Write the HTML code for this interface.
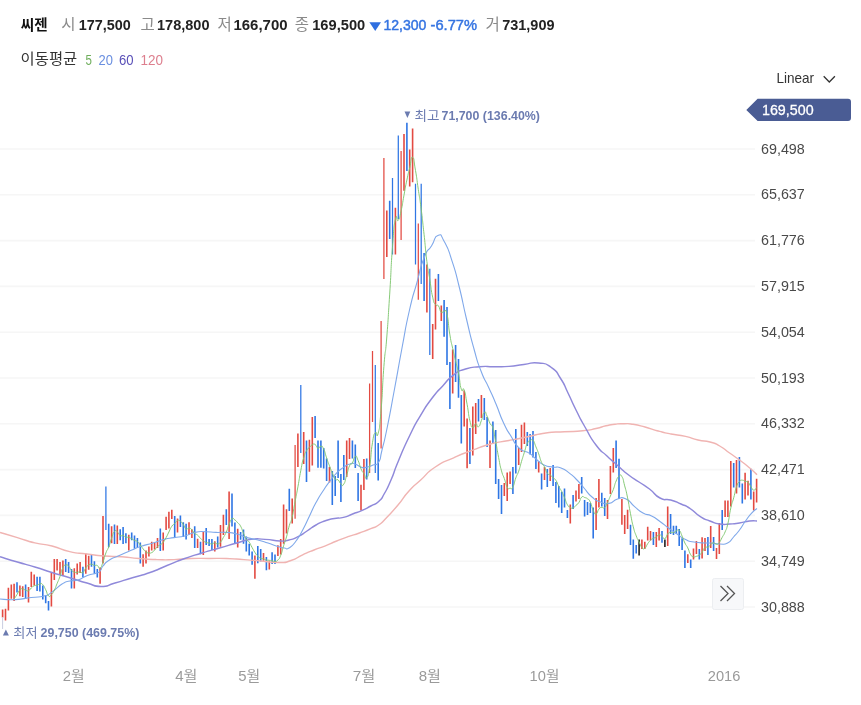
<!DOCTYPE html>
<html lang="ko"><head><meta charset="utf-8"><title>chart</title>
<style>html,body{margin:0;padding:0;background:#fff;width:861px;height:705px;overflow:hidden}</style></head>
<body>
<svg width="861" height="705" viewBox="0 0 861 705" style="position:absolute;left:0;top:0">
<g stroke="#f6f6f6" stroke-width="1.6">
<line x1="0" y1="149.0" x2="755" y2="149.0"/>
<line x1="0" y1="194.8" x2="755" y2="194.8"/>
<line x1="0" y1="240.6" x2="755" y2="240.6"/>
<line x1="0" y1="286.4" x2="755" y2="286.4"/>
<line x1="0" y1="332.2" x2="755" y2="332.2"/>
<line x1="0" y1="378.0" x2="755" y2="378.0"/>
<line x1="0" y1="423.8" x2="755" y2="423.8"/>
<line x1="0" y1="469.6" x2="755" y2="469.6"/>
<line x1="0" y1="515.4" x2="755" y2="515.4"/>
<line x1="0" y1="561.2" x2="755" y2="561.2"/>
<line x1="0" y1="607.0" x2="755" y2="607.0"/>
</g>
<path d="M2.6 609.6V617.4M5.5 608.8V620.5M8.4 587.7V610.4M11.3 584.6V598.7M14.1 583.8V601.0M19.9 585.4V596.3M22.7 586.2V597.1M28.5 587.0V602.6M31.3 571.8V587.0M34.2 574.5V585.4M51.4 572.1V606.5M54.3 558.9V579.9M57.1 558.9V570.6M60.0 562.0V574.5M62.9 560.4V576.0M74.3 568.2V588.5M77.2 563.5V574.5M80.1 562.0V572.9M85.8 553.4V573.7M88.7 555.7V569.8M100.1 567.4V583.8M103.0 516.0V563.6M111.6 526.2V543.3M117.3 525.4V544.1M128.8 534.8V550.4M143.1 554.3V566.7M146.0 550.4V563.6M148.9 546.5V556.6M151.7 541.8V550.4M154.6 542.6V549.6M157.5 537.9V548.0M163.2 532.4V550.4M166.1 516.8V530.1M168.9 511.8V528.5M171.8 509.8V519.1M177.5 518.4V532.4M189.0 522.3V534.8M191.9 529.3V537.9M197.6 538.7V548.0M203.3 532.1V555.0M214.8 541.3V551.5M220.5 524.9V546.8M223.4 514.8V535.1M229.1 491.4V539.0M237.7 528.8V547.6M254.9 555.4V578.8M263.5 553.0V560.8M269.3 560.8V569.4M277.9 545.2V556.1M280.7 539.0V554.6M283.6 504.6V543.7M286.5 509.3V533.5M292.2 498.4V523.4M297.9 433.5V467.0M303.7 432.0V464.0M309.4 439.7V471.7M312.3 417.0V465.5M329.5 467.0V482.6M346.7 440.5V477.0M349.5 438.0V459.0M361.0 484.8V510.4M363.9 459.0V490.0M386.8 210.6V257.0M395.4 207.8V254.6M404.0 134.0V190.8M409.7 149.6V186.5M412.6 128.4V182.3M426.9 264.5V312.5M432.7 324.0V359.0M435.5 278.7V329.6M441.3 305.5V321.0M452.7 349.4V393.4M464.2 390.6V426.5M467.1 418.5V468.3M472.8 406.6V455.5M475.7 403.0V434.0M481.4 395.0V418.0M490.0 440.6V468.0M504.3 483.0V496.0M507.2 472.6V501.0M510.1 471.5V484.0M518.7 448.0V465.0M521.5 424.7V452.0M524.4 422.5V444.0M538.7 461.0V472.5M544.5 467.0V480.0M550.2 468.0V481.0M570.3 504.5V523.6M576.0 490.6V501.5M578.9 484.0V499.0M596.1 498.0V530.0M598.9 479.0V507.6M607.5 500.0V519.0M610.4 466.0V494.0M613.3 448.0V472.6M621.9 499.0V524.7M624.7 515.0V534.0M627.6 509.8V529.0M641.9 539.6V549.0M644.8 541.7V549.0M647.7 526.8V540.6M650.5 531.0V540.6M656.3 532.0V547.0M659.1 527.9V540.6M667.7 506.6V546.0M687.8 554.3V563.0M693.5 548.5V559.4M696.4 541.0V554.0M702.1 537.2V558.4M705.0 538.0V551.0M710.7 526.0V548.0M716.5 548.0V559.0M719.3 523.0V554.0M725.1 500.5V517.0M727.9 500.5V517.0M730.8 461.0V506.5M736.5 460.0V493.6M745.1 472.7V499.5M748.0 480.7V495.5M753.7 491.6V510.4M756.6 478.7V502.5" stroke="#e34a42" stroke-width="1.6" fill="none"/>
<path d="M295.1 445.0V518.7M369.6 383.6V473.0M372.5 351.0V422.0M381.1 321.0V448.6M383.9 158.0V279.0M401.1 151.0V240.0M418.3 223.4V299.8" stroke="#e34a42" stroke-width="1.25" fill="none"/>
<path d="M17.0 582.3V592.4M25.6 584.6V598.7M37.1 576.8V590.9M39.9 576.8V591.6M42.8 585.4V599.4M45.7 595.5V603.3M48.5 601.0V610.4M65.7 558.9V572.1M68.6 562.0V572.9M71.5 569.0V588.5M82.9 566.7V577.6M91.5 555.0V566.7M94.4 561.2V573.7M97.3 569.0V577.6M108.7 523.8V547.2M114.5 524.6V544.1M120.2 529.3V540.2M123.1 527.0V544.1M125.9 533.2V543.3M131.7 532.4V540.2M134.5 535.5V548.8M137.4 537.9V548.0M140.3 542.6V563.6M160.3 528.5V551.1M174.7 516.0V537.1M180.4 515.6V527.0M183.3 522.3V537.1M186.1 523.8V539.4M194.7 526.2V548.0M200.5 541.8V554.3M206.2 528.0V544.9M209.1 539.0V546.0M211.9 539.0V549.9M217.7 536.6V547.6M226.3 509.3V524.9M232.0 493.4V526.5M234.9 522.6V542.9M240.6 532.0V539.8M243.5 529.6V543.7M246.3 536.6V551.5M249.2 543.7V555.4M252.1 551.5V564.7M257.8 546.0V563.2M260.7 549.1V561.6M266.4 556.9V570.2M272.1 552.2V563.9M275.0 554.6V563.9M289.3 488.7V510.9M306.5 440.5V482.0M315.1 416.0V438.0M318.0 440.5V467.8M320.9 440.5V467.8M323.7 448.0V468.6M326.6 458.5V481.0M332.3 471.0V505.0M335.2 476.0V496.0M338.1 440.5V478.0M340.9 474.0V502.0M343.8 455.0V480.0M352.4 440.5V458.5M355.3 444.5V468.0M358.1 473.0V501.0M366.7 458.5V479.6M378.2 443.0V480.5M389.7 200.7V239.0M406.9 122.7V171.0M424.1 253.0V301.0M438.4 274.0V301.0M444.1 300.0V336.7M447.0 307.0V365.0M449.9 362.0V409.0M455.6 345.0V382.0M458.5 359.0V397.7M461.3 395.0V443.5M469.9 428.0V464.0M478.5 399.0V421.5M484.3 398.0V420.0M487.1 417.0V447.0M492.9 421.5V444.0M495.7 430.0V484.0M498.6 479.0V499.0M501.5 485.0V514.0M512.9 467.0V494.0M515.8 429.0V473.6M527.3 432.0V446.0M530.1 434.0V454.5M533.0 431.0V457.6M535.9 452.0V469.0M541.6 473.6V489.6M547.3 469.0V487.0M553.1 465.0V486.0M555.9 482.0V503.0M558.8 486.0V507.6M561.7 491.7V513.0M564.5 488.5V507.6M567.4 510.0V518.0M573.1 495.0V509.0M581.7 477.0V493.5M584.6 500.0V516.5M587.5 502.0V515.0M590.3 503.0V513.0M593.2 507.6V538.5M601.8 492.8V506.6M604.7 498.0V516.0M616.1 440.6V468.0M619.0 458.7V499.0M630.5 524.7V545.0M633.3 539.6V558.7M636.2 545.0V553.4M653.4 532.0V545.0M662.0 531.0V542.8M670.6 514.0V534.0M673.5 525.7V535.0M676.3 525.7V534.0M679.2 529.0V546.0M682.1 538.3V550.0M684.9 550.5V568.0M690.7 559.4V568.0M699.3 549.0V559.5M707.9 537.0V555.0M713.6 537.0V551.0M722.2 510.0V530.0M733.7 463.0V487.6M739.4 457.0V487.6M742.3 483.6V503.5M750.9 468.8V499.5" stroke="#2f76e4" stroke-width="1.6" fill="none"/>
<path d="M105.9 486.4V530.1M300.8 385.0V453.0M375.3 365.0V473.0M392.5 178.0V254.6M398.3 135.5V219.0M415.5 183.7V264.5M421.2 183.7V284.0M429.8 268.8V355.0" stroke="#2f76e4" stroke-width="1.25" fill="none"/>
<path d="M639.1 539.6V555.5M664.9 539.6V547.0" stroke="#222" stroke-width="1.6" fill="none"/>
<path d="M0.0 532.4C5.8 534.1 5.8 534.1 17.4 537.6C29.0 541.1 23.3 540.1 34.8 542.9C46.3 545.7 40.4 543.1 52.0 546.0C63.6 548.9 58.0 548.9 69.7 551.6C81.4 554.3 75.4 552.5 87.0 554.0C98.6 555.5 92.8 555.1 104.5 556.0C116.2 556.9 110.5 556.0 122.0 556.8C133.5 557.6 127.3 557.6 139.0 558.5C150.7 559.4 145.3 559.2 157.0 559.6C168.7 560.0 162.5 560.0 174.0 559.6C185.5 559.2 179.9 558.9 191.6 558.5C203.3 558.1 197.4 558.5 209.0 558.5C220.6 558.5 214.8 558.1 226.5 558.5C238.2 558.9 232.5 558.8 244.0 559.6C255.5 560.4 249.4 560.0 261.0 561.0C272.6 562.0 268.7 562.7 278.7 562.5C288.7 562.3 283.0 563.1 291.0 560.5C299.0 557.9 295.0 558.3 302.7 554.8C310.4 551.3 306.4 553.0 314.0 550.0C321.6 547.0 317.8 548.8 325.4 545.8C333.0 542.8 329.2 544.0 336.7 541.0C344.2 538.0 340.4 539.4 348.0 536.7C355.6 534.0 351.8 535.7 359.4 533.0C367.0 530.3 364.4 531.4 370.8 528.7C377.2 526.0 373.4 528.8 378.7 525.0C384.0 521.2 380.3 524.1 386.7 517.4C393.1 510.7 390.6 513.8 398.0 505.0C405.4 496.2 401.4 499.3 409.0 491.0C416.6 482.7 411.9 488.0 420.7 480.0C429.5 472.0 424.3 474.4 435.3 467.0C446.3 459.6 441.5 463.3 453.7 457.8C465.9 452.3 459.7 455.0 472.0 450.4C484.3 445.8 478.3 447.3 490.6 444.0C502.9 440.7 496.7 442.9 509.0 440.5C521.3 438.1 515.2 439.3 527.5 436.8C539.8 434.3 533.6 434.7 545.9 433.0C558.2 431.3 552.0 432.5 564.3 431.8C576.6 431.1 572.2 431.9 582.8 430.8C593.4 429.7 588.3 430.2 596.0 428.5C603.7 426.8 599.7 427.2 606.0 425.8C612.3 424.4 609.0 424.9 615.0 424.2C621.0 423.5 618.0 423.7 624.0 423.7C630.0 423.7 626.0 423.2 633.0 424.3C640.0 425.4 638.0 425.2 645.0 427.0C652.0 428.8 648.3 428.1 654.0 429.8C659.7 431.5 656.3 430.6 662.0 432.0C667.7 433.4 663.1 432.5 671.0 434.0C678.9 435.5 676.6 434.4 685.6 436.4C694.6 438.4 689.9 438.1 698.0 440.0C706.1 441.9 702.8 440.0 710.0 442.0C717.2 444.0 713.2 442.3 719.7 446.0C726.2 449.7 723.0 448.3 729.6 453.0C736.2 457.7 732.9 455.1 739.5 460.0C746.1 464.9 743.6 462.9 749.4 467.8C755.2 472.7 754.5 472.4 757.0 474.7" fill="none" stroke="#f0b4b2" stroke-width="1.4" stroke-linejoin="round"/>
<path d="M0.0 556.8C5.8 558.5 5.8 558.6 17.4 562.0C29.0 565.4 23.3 563.5 34.8 567.0C46.3 570.5 40.4 568.9 52.0 572.5C63.6 576.1 58.0 574.2 69.7 577.7C81.4 581.2 76.6 580.1 87.0 583.0C97.4 585.9 91.7 586.4 101.0 586.4C110.3 586.4 104.5 585.9 115.0 583.0C125.5 580.1 120.7 581.2 132.4 577.7C144.1 574.2 138.5 576.6 150.0 572.5C161.5 568.4 155.4 570.2 167.0 565.5C178.6 560.8 173.0 562.7 184.7 558.5C196.4 554.3 190.4 556.5 202.0 553.0C213.6 549.5 207.8 551.3 219.5 548.0C231.2 544.7 226.5 545.9 237.0 543.0C247.5 540.1 241.7 540.6 251.0 539.4C260.3 538.2 255.3 538.9 265.0 539.4C274.7 539.9 272.0 540.8 280.0 541.0C288.0 541.2 283.0 541.4 289.0 540.0C295.0 538.6 292.0 539.7 298.0 536.7C304.0 533.7 301.0 534.9 307.0 531.0C313.0 527.1 309.9 528.4 316.0 525.0C322.1 521.6 319.2 523.0 325.4 520.8C331.6 518.6 328.5 519.6 334.5 518.5C340.5 517.4 337.5 518.9 343.5 517.4C349.5 515.9 346.5 516.3 352.6 514.0C358.7 511.7 355.6 513.3 361.7 510.6C367.8 507.9 365.1 509.0 370.8 506.0C376.5 503.0 374.2 505.7 378.7 501.5C383.2 497.3 380.3 500.7 384.4 493.5C388.5 486.3 386.3 490.8 391.0 480.0C395.7 469.2 392.2 475.7 398.4 461.0C404.6 446.3 402.1 451.2 409.5 436.0C416.9 420.8 413.2 427.8 420.6 415.4C428.0 403.0 424.2 408.6 431.6 398.8C439.0 389.0 435.3 393.9 442.7 385.9C450.1 377.9 446.3 380.3 453.7 374.8C461.1 369.3 456.2 372.0 464.8 369.3C473.4 366.6 469.7 367.6 479.5 366.7C489.3 365.8 484.5 366.8 494.3 366.7C504.1 366.6 499.2 367.1 509.0 366.4C518.8 365.7 514.0 365.6 523.8 364.5C533.6 363.4 529.3 362.0 538.5 363.0C547.7 364.0 544.0 362.3 551.4 367.5C558.8 372.7 555.1 370.0 560.6 378.5C566.1 387.0 562.9 382.5 568.0 393.0C573.1 403.5 570.3 398.7 576.0 410.0C581.7 421.3 578.3 415.3 585.0 427.0C591.7 438.7 588.7 435.3 596.0 445.0C603.3 454.7 599.8 449.2 607.0 456.0C614.2 462.8 610.6 459.3 617.6 465.5C624.6 471.7 620.9 469.0 628.0 474.5C635.1 480.0 631.8 477.2 639.0 482.0C646.2 486.8 642.5 483.7 649.5 489.0C656.5 494.3 652.9 494.3 660.0 498.0C667.1 501.7 663.7 498.0 670.7 500.0C677.7 502.0 674.6 501.2 681.0 504.0C687.4 506.8 683.7 504.4 690.0 508.5C696.3 512.6 693.4 512.2 700.0 516.4C706.6 520.6 703.2 518.5 709.8 521.0C716.4 523.5 713.1 523.0 719.7 524.0C726.3 525.0 723.0 524.3 729.6 524.0C736.2 523.7 732.9 524.0 739.5 523.0C746.1 522.0 743.6 521.7 749.4 521.0C755.2 520.3 754.5 521.0 757.0 521.0" fill="none" stroke="#8f89da" stroke-width="1.45" stroke-linejoin="round"/>
<path d="M0.0 599.0C5.2 599.2 5.2 600.1 15.6 599.6C26.0 599.1 21.7 598.7 31.2 597.5C40.7 596.3 37.2 597.7 44.0 596.0C50.8 594.3 45.4 596.5 51.5 592.4C57.6 588.3 56.2 587.6 62.4 583.8C68.6 580.0 64.8 582.3 70.0 581.0C75.2 579.7 72.2 581.8 78.0 580.0C83.8 578.2 81.2 577.8 87.4 575.5C93.6 573.2 92.3 574.7 96.7 573.0C101.1 571.3 98.4 572.8 100.5 570.5C102.6 568.2 100.0 569.5 103.0 566.0C106.0 562.5 104.2 563.4 109.4 560.0C114.6 556.6 111.4 559.0 118.7 555.8C126.0 552.6 123.9 553.4 131.2 550.3C138.5 547.2 133.3 548.8 140.6 546.4C147.9 544.0 145.2 545.3 153.0 543.0C160.8 540.7 157.0 541.2 164.0 539.4C171.0 537.6 167.1 538.7 174.0 537.6C180.9 536.5 177.7 537.7 184.7 536.0C191.7 534.3 188.0 533.8 195.0 532.4C202.0 531.0 198.6 531.7 205.6 531.7C212.6 531.7 209.0 532.2 216.0 532.4C223.0 532.6 219.5 531.9 226.5 532.4C233.5 532.9 230.2 532.3 237.0 534.0C243.8 535.7 240.0 535.6 247.0 537.6C254.0 539.6 251.0 538.2 258.0 540.0C265.0 541.8 261.3 540.8 268.0 543.0C274.7 545.2 272.5 544.8 278.0 546.5C283.5 548.2 280.8 547.5 284.5 548.0C288.2 548.5 285.2 550.3 289.0 548.0C292.8 545.7 291.4 547.0 296.0 541.0C300.6 535.0 298.2 538.3 302.7 530.0C307.2 521.7 305.1 525.1 309.5 516.0C313.9 506.9 311.5 510.9 316.0 502.6C320.5 494.3 318.3 498.2 323.0 491.0C327.7 483.8 325.4 487.0 330.0 481.0C334.6 475.0 332.2 477.5 336.7 473.0C341.2 468.5 339.1 470.4 343.5 467.4C347.9 464.4 346.2 465.1 350.0 464.0C353.8 462.9 351.1 462.9 355.0 464.0C358.9 465.1 358.0 466.3 361.7 467.4C365.4 468.5 362.2 468.2 366.0 467.4C369.8 466.6 368.8 466.8 373.0 465.0C377.2 463.2 375.7 467.0 378.7 462.0C381.7 457.0 379.1 461.8 382.0 450.0C384.9 438.2 383.2 447.2 387.4 426.5C391.6 405.8 389.8 414.2 394.7 388.0C399.6 361.8 397.1 374.0 402.0 348.0C406.9 322.0 404.5 331.8 409.5 310.0C414.5 288.2 412.1 300.0 416.9 282.7C421.7 265.4 419.1 270.3 424.0 258.0C428.9 245.7 427.0 253.3 431.6 245.8C436.2 238.3 433.6 236.8 437.9 235.5C442.2 234.2 439.8 233.6 444.5 242.0C449.2 250.4 447.1 245.9 451.9 260.6C456.7 275.3 454.1 266.4 459.0 286.0C463.9 305.6 461.6 298.5 466.6 319.5C471.6 340.5 469.2 331.8 474.0 349.0C478.8 366.2 476.1 358.1 481.0 371.0C485.9 383.9 483.8 376.7 488.8 387.7C493.8 398.7 491.1 392.3 496.0 404.0C500.9 415.7 498.5 412.1 503.5 422.8C508.5 433.5 505.7 427.6 510.9 436.0C516.1 444.4 512.8 442.2 519.0 448.0C525.2 453.8 523.8 449.7 529.5 453.4C535.2 457.1 531.2 455.1 536.0 459.0C540.8 462.9 538.3 462.3 544.0 465.0C549.7 467.7 547.3 466.0 553.0 467.0C558.7 468.0 555.3 465.8 561.0 468.0C566.7 470.2 564.7 469.6 570.0 473.6C575.3 477.6 572.3 475.2 577.0 480.0C581.7 484.8 579.0 482.3 584.0 488.0C589.0 493.7 586.5 492.3 592.0 497.0C597.5 501.7 594.8 499.9 600.5 502.0C606.2 504.1 603.3 504.4 609.0 503.4C614.7 502.4 611.9 500.5 617.6 499.0C623.3 497.5 620.3 496.5 626.0 499.0C631.7 501.5 628.9 501.9 634.6 506.6C640.3 511.3 637.3 509.9 643.0 513.0C648.7 516.1 645.9 513.2 651.6 516.0C657.3 518.8 654.3 517.5 660.0 521.5C665.7 525.5 662.9 523.8 668.6 528.0C674.3 532.2 671.3 530.1 677.0 534.0C682.7 537.9 679.9 536.9 685.6 539.6C691.3 542.3 687.5 540.9 694.0 542.0C700.5 543.1 699.1 542.7 705.0 543.0C710.9 543.3 706.8 542.7 711.7 543.0C716.6 543.3 714.4 544.0 719.7 544.0C725.0 544.0 723.0 545.3 727.6 543.0C732.2 540.7 729.6 541.3 733.6 537.0C737.6 532.7 735.5 535.3 739.5 530.0C743.5 524.7 741.5 526.5 745.5 521.0C749.5 515.5 747.6 517.6 751.4 513.4C755.2 509.2 755.1 510.1 757.0 508.5" fill="none" stroke="#7fa8ea" stroke-width="1.1" stroke-linejoin="round"/>
<path d="M14.1 599.0C15.1 597.5 15.1 597.6 17.0 594.6C18.9 591.5 17.9 591.7 19.9 589.9C21.8 588.0 20.8 588.8 22.7 588.9C24.6 589.0 23.7 589.5 25.6 590.1C27.5 590.7 26.5 591.4 28.5 590.7C30.4 589.9 29.4 589.6 31.3 588.0C33.2 586.3 32.3 586.7 34.2 585.8C36.1 584.9 35.1 585.9 37.1 585.3C39.0 584.7 38.0 584.1 39.9 583.9C41.8 583.7 40.9 582.7 42.8 584.7C44.7 586.6 43.7 586.0 45.7 589.7C47.6 593.4 46.6 594.1 48.5 595.8C50.4 597.4 49.5 596.6 51.4 594.7C53.3 592.9 52.3 593.9 54.3 590.2C56.2 586.4 55.2 588.1 57.1 583.5C59.0 578.9 58.1 581.6 60.0 576.4C61.9 571.1 60.9 571.5 62.9 567.8C64.8 564.0 63.8 565.7 65.7 565.1C67.6 564.6 66.7 564.4 68.6 566.1C70.5 567.9 69.5 568.4 71.5 570.3C73.4 572.3 72.4 571.3 74.3 572.0C76.2 572.7 75.3 572.5 77.2 572.4C79.1 572.3 78.1 571.6 80.1 571.7C82.0 571.8 81.0 573.9 82.9 572.6C84.8 571.3 83.9 570.4 85.8 567.8C87.7 565.3 86.7 566.2 88.7 565.0C90.6 563.8 89.6 564.2 91.5 564.3C93.4 564.5 92.5 565.0 94.4 565.4C96.3 565.8 95.3 564.6 97.3 565.5C99.2 566.4 98.2 569.3 100.1 568.1C102.0 566.9 101.1 567.1 103.0 562.0C104.9 557.0 103.9 557.9 105.9 552.9C107.8 547.9 106.8 551.9 108.7 547.0C110.6 542.1 109.7 543.3 111.6 538.2C113.5 533.0 112.5 533.6 114.5 531.5C116.4 529.4 115.4 530.4 117.3 531.8C119.2 533.1 118.3 534.4 120.2 535.6C122.1 536.8 121.1 534.8 123.1 535.3C125.0 535.9 124.0 536.6 125.9 537.2C127.8 537.9 126.9 536.8 128.8 537.3C130.7 537.9 129.7 537.8 131.7 538.8C133.6 539.8 132.6 539.5 134.5 540.4C136.4 541.3 135.5 540.0 137.4 541.6C139.3 543.1 138.3 542.6 140.3 545.0C142.2 547.4 141.2 546.4 143.1 548.8C145.0 551.1 144.1 550.6 146.0 552.0C147.9 553.3 146.9 552.6 148.9 552.8C150.8 553.0 149.8 553.5 151.7 552.6C153.6 551.7 152.7 552.0 154.6 550.0C156.5 547.9 155.5 548.3 157.5 546.6C159.4 544.8 158.4 546.1 160.3 544.7C162.2 543.3 161.3 544.7 163.2 542.3C165.1 540.0 164.1 541.0 166.1 537.6C168.0 534.2 167.0 535.7 168.9 532.0C170.8 528.2 169.9 529.1 171.8 526.3C173.7 523.5 172.7 525.5 174.7 523.6C176.6 521.7 175.6 521.4 177.5 520.6C179.4 519.8 178.5 519.9 180.4 521.2C182.3 522.5 181.3 521.9 183.3 524.5C185.2 527.1 184.2 527.9 186.1 529.1C188.0 530.2 187.1 527.7 189.0 528.0C190.9 528.2 189.9 528.0 191.9 529.8C193.8 531.7 192.8 531.7 194.7 533.5C196.6 535.2 195.7 533.5 197.6 535.1C199.5 536.7 198.5 536.4 200.5 538.3C202.4 540.2 201.4 539.4 203.3 540.8C205.2 542.2 204.3 541.8 206.2 542.5C208.1 543.2 207.1 542.4 209.1 543.0C211.0 543.5 210.0 544.1 211.9 544.1C213.8 544.0 212.9 542.8 214.8 542.7C216.7 542.7 215.7 544.1 217.7 543.9C219.6 543.7 218.6 544.3 220.5 542.1C222.4 539.9 221.5 540.7 223.4 537.4C225.3 534.1 224.3 536.5 226.3 532.1C228.2 527.8 227.2 528.7 229.1 524.3C231.0 519.8 230.1 520.2 232.0 518.8C233.9 517.4 232.9 518.7 234.9 520.0C236.8 521.3 235.8 520.7 237.7 522.8C239.6 524.8 238.7 522.7 240.6 526.2C242.5 529.6 241.5 528.8 243.5 533.2C245.4 537.5 244.4 536.2 246.3 539.2C248.2 542.2 247.3 539.4 249.2 542.1C251.1 544.9 250.1 544.1 252.1 547.5C254.0 551.0 253.0 549.5 254.9 552.4C256.8 555.3 255.9 554.2 257.8 556.1C259.7 558.1 258.7 557.4 260.7 558.3C262.6 559.2 261.6 558.3 263.5 558.9C265.4 559.5 264.5 559.6 266.4 560.0C268.3 560.5 267.3 560.0 269.3 560.3C271.2 560.5 270.2 560.4 272.1 560.7C274.0 561.1 273.1 561.6 275.0 561.4C276.9 561.1 275.9 562.0 277.9 560.0C279.8 558.0 278.8 560.1 280.7 555.4C282.6 550.6 281.7 552.0 283.6 545.8C285.5 539.7 284.5 543.7 286.5 536.9C288.4 530.2 287.4 532.2 289.3 525.6C291.2 519.0 290.3 525.1 292.2 517.0C294.1 509.0 293.1 511.5 295.1 501.5C297.0 491.4 296.0 497.3 297.9 486.9C299.8 476.6 298.9 480.2 300.8 470.5C302.7 460.8 301.7 464.3 303.7 457.8C305.6 451.2 304.6 454.2 306.5 450.8C308.4 447.3 307.5 449.3 309.4 447.4C311.3 445.4 310.3 445.9 312.3 444.9C314.2 443.9 313.2 443.3 315.1 444.5C317.0 445.6 316.1 447.7 318.0 448.3C319.9 448.9 318.9 446.0 320.9 446.3C322.8 446.5 321.8 445.2 323.7 449.1C325.6 453.0 324.7 452.4 326.6 457.9C328.5 463.5 327.5 460.9 329.5 465.8C331.4 470.8 330.4 468.5 332.3 472.9C334.2 477.3 333.3 476.6 335.2 479.0C337.1 481.3 336.1 478.3 338.1 479.9C340.0 481.5 339.0 482.4 340.9 483.8C342.8 485.2 341.9 487.0 343.8 484.1C345.7 481.2 344.7 481.2 346.7 475.2C348.6 469.1 347.6 469.9 349.5 465.9C351.4 461.8 350.5 466.2 352.4 463.0C354.3 459.9 353.3 457.3 355.3 456.5C357.2 455.7 356.2 456.4 358.1 460.5C360.0 464.6 359.1 464.4 361.0 468.8C362.9 473.1 361.9 470.6 363.9 473.5C365.8 476.5 364.8 479.8 366.7 477.6C368.6 475.4 367.7 478.7 369.6 467.0C371.5 455.4 370.5 454.0 372.5 442.6C374.4 431.1 373.4 435.9 375.3 432.7C377.2 429.6 376.3 440.8 378.2 433.2C380.1 425.5 379.1 432.0 381.1 409.8C383.0 387.6 382.0 390.7 383.9 366.4C385.8 342.2 384.9 361.1 386.8 337.0C388.7 312.9 387.7 324.2 389.7 294.1C391.6 264.0 390.6 271.6 392.5 246.7C394.4 221.9 393.5 228.4 395.4 219.6C397.3 210.8 396.3 223.2 398.3 220.3C400.2 217.4 399.2 219.2 401.1 210.8C403.0 202.4 402.1 205.4 404.0 195.1C405.9 184.8 404.9 189.1 406.9 180.0C408.8 170.9 407.8 175.3 409.7 167.8C411.6 160.2 410.7 156.4 412.6 157.3C414.5 158.3 413.5 159.8 415.5 170.5C417.4 181.3 416.4 176.6 418.3 189.5C420.2 202.4 419.3 194.1 421.2 209.2C423.1 224.3 422.1 217.3 424.1 234.7C426.0 252.2 425.0 246.7 426.9 261.6C428.8 276.5 427.9 267.5 429.8 279.4C431.7 291.3 430.7 288.8 432.7 297.2C434.6 305.6 433.6 301.8 435.5 304.6C437.4 307.5 436.5 303.3 438.4 305.8C440.3 308.3 439.3 310.3 441.3 312.2C443.2 314.0 442.2 310.6 444.1 311.3C446.0 312.0 445.1 306.4 447.0 314.3C448.9 322.1 447.9 323.4 449.9 334.9C451.8 346.3 450.8 339.8 452.7 348.5C454.6 357.2 453.7 352.7 455.6 360.9C457.5 369.0 456.5 363.5 458.5 373.0C460.4 382.4 459.4 383.5 461.3 389.2C463.2 394.9 462.3 385.1 464.2 390.2C466.1 395.2 465.1 394.1 467.1 404.3C469.0 414.5 468.0 413.0 469.9 420.8C471.8 428.5 470.9 426.4 472.8 427.4C474.7 428.5 473.7 424.0 475.7 423.8C477.6 423.6 476.6 427.8 478.5 426.7C480.4 425.6 479.5 425.2 481.4 420.5C483.3 415.8 482.3 413.9 484.3 412.5C486.2 411.0 485.2 412.5 487.1 416.2C489.0 419.8 488.1 419.5 490.0 423.5C491.9 427.4 490.9 422.0 492.9 428.0C494.8 434.0 493.8 431.7 495.7 441.5C497.6 451.3 496.7 447.6 498.6 457.4C500.5 467.2 499.5 463.8 501.5 470.8C503.4 477.9 502.4 473.1 504.3 478.5C506.2 483.9 505.3 483.8 507.2 487.1C509.1 490.3 508.2 488.4 510.1 488.3C512.0 488.2 511.0 490.4 512.9 486.9C514.8 483.5 513.9 483.2 515.8 477.9C517.7 472.7 516.8 476.6 518.7 471.2C520.6 465.7 519.6 467.8 521.5 461.5C523.4 455.2 522.5 458.3 524.4 452.2C526.3 446.2 525.4 447.1 527.3 443.4C529.2 439.6 528.2 441.9 530.1 440.9C532.0 439.9 531.1 438.4 533.0 440.4C534.9 442.3 534.0 442.2 535.9 446.8C537.8 451.3 536.8 448.6 538.7 453.9C540.6 459.1 539.7 458.2 541.6 462.5C543.5 466.8 542.6 463.3 544.5 466.9C546.4 470.5 545.4 470.6 547.3 473.2C549.2 475.8 548.3 473.2 550.2 474.7C552.1 476.3 551.2 476.0 553.1 477.9C555.0 479.8 554.0 477.4 555.9 480.3C557.8 483.2 556.9 482.7 558.8 486.5C560.7 490.2 559.8 487.8 561.7 491.5C563.6 495.2 562.6 493.2 564.5 497.6C566.4 502.0 565.5 501.5 567.4 504.7C569.3 508.0 568.4 506.2 570.3 507.3C572.2 508.4 571.2 508.7 573.1 508.0C575.0 507.3 574.1 507.1 576.0 505.3C577.9 503.5 577.0 505.2 578.9 502.5C580.8 499.8 579.8 498.8 581.7 497.1C583.6 495.5 582.7 497.0 584.6 497.5C586.5 498.1 585.6 497.3 587.5 498.8C589.4 500.3 588.4 498.2 590.3 502.1C592.2 506.0 591.3 506.5 593.2 510.4C595.1 514.4 594.2 514.5 596.1 514.0C598.0 513.6 597.0 511.3 598.9 509.1C600.8 506.8 599.9 507.9 601.8 507.4C603.7 506.8 602.8 509.1 604.7 507.5C606.6 505.9 605.6 506.4 607.5 502.6C609.4 498.8 608.5 500.3 610.4 496.0C612.3 491.6 611.4 494.5 613.3 489.5C615.2 484.6 614.2 485.4 616.1 481.1C618.0 476.7 617.1 477.9 619.0 476.4C620.9 474.9 620.0 473.4 621.9 476.6C623.8 479.8 622.8 478.8 624.7 485.9C626.6 493.0 625.7 488.7 627.6 497.9C629.5 507.2 628.6 504.1 630.5 513.7C632.4 523.4 631.4 519.5 633.3 526.9C635.2 534.2 634.3 530.8 636.2 535.8C638.1 540.9 637.2 538.1 639.1 542.0C641.0 545.8 640.0 545.3 641.9 547.4C643.8 549.5 642.9 549.5 644.8 548.3C646.7 547.1 645.8 546.4 647.7 543.7C649.6 541.1 648.6 542.1 650.5 540.3C652.4 538.5 651.5 539.4 653.4 538.3C655.3 537.3 654.4 538.4 656.3 537.1C658.2 535.9 657.2 534.9 659.1 534.7C661.0 534.4 660.1 535.1 662.0 536.4C663.9 537.8 663.0 539.5 664.9 538.7C666.8 537.9 665.8 536.0 667.7 533.9C669.6 531.8 668.7 532.8 670.6 532.4C672.5 531.9 671.6 533.0 673.5 532.6C675.4 532.1 674.4 531.8 676.3 531.0C678.2 530.2 677.3 528.6 679.2 530.3C681.1 532.0 680.2 531.8 682.1 536.1C684.0 540.3 683.0 539.1 684.9 543.0C686.8 547.0 685.9 544.0 687.8 547.9C689.7 551.8 688.8 551.7 690.7 554.7C692.6 557.6 691.6 556.2 693.5 556.7C695.4 557.3 694.5 556.9 696.4 556.3C698.3 555.7 697.4 556.4 699.3 555.0C701.2 553.7 700.2 554.8 702.1 552.3C704.0 549.8 703.1 549.2 705.0 547.5C706.9 545.8 706.0 548.1 707.9 547.2C709.8 546.2 708.8 546.2 710.7 544.7C712.6 543.2 711.7 542.9 713.6 542.8C715.5 542.7 714.6 544.5 716.5 544.4C718.4 544.2 717.4 544.8 719.3 542.4C721.2 540.0 720.3 540.8 722.2 537.3C724.1 533.8 723.2 536.5 725.1 531.9C727.0 527.3 726.0 531.4 727.9 523.5C729.8 515.5 728.9 516.6 730.8 508.0C732.7 499.5 731.8 504.9 733.7 497.8C735.6 490.8 734.6 492.2 736.5 486.8C738.4 481.4 737.5 483.8 739.4 481.6C741.3 479.4 740.4 480.2 742.3 480.2C744.2 480.1 743.2 480.8 745.1 481.5C747.0 482.2 746.1 480.6 748.0 482.3C749.9 484.0 749.0 484.0 750.9 486.6C752.8 489.2 751.8 489.8 753.7 490.1C755.6 490.5 755.6 488.5 756.6 487.6" fill="none" stroke="#80c670" stroke-width="0.95" stroke-linejoin="round"/>
<line x1="2.6" y1="617" x2="2.6" y2="629" stroke="#c9cde0" stroke-width="1"/>
<g font-family="Liberation Sans, Noto Sans CJK KR, NanumGothic, sans-serif">
<text x="761" y="153.5" font-size="14.8" fill="#4a4a4a" font-weight="normal" text-anchor="start" textLength="43.8" lengthAdjust="spacingAndGlyphs">69,498</text>
<text x="761" y="199.3" font-size="14.8" fill="#4a4a4a" font-weight="normal" text-anchor="start" textLength="43.8" lengthAdjust="spacingAndGlyphs">65,637</text>
<text x="761" y="245.1" font-size="14.8" fill="#4a4a4a" font-weight="normal" text-anchor="start" textLength="43.8" lengthAdjust="spacingAndGlyphs">61,776</text>
<text x="761" y="290.9" font-size="14.8" fill="#4a4a4a" font-weight="normal" text-anchor="start" textLength="43.8" lengthAdjust="spacingAndGlyphs">57,915</text>
<text x="761" y="336.7" font-size="14.8" fill="#4a4a4a" font-weight="normal" text-anchor="start" textLength="43.8" lengthAdjust="spacingAndGlyphs">54,054</text>
<text x="761" y="382.5" font-size="14.8" fill="#4a4a4a" font-weight="normal" text-anchor="start" textLength="43.8" lengthAdjust="spacingAndGlyphs">50,193</text>
<text x="761" y="428.3" font-size="14.8" fill="#4a4a4a" font-weight="normal" text-anchor="start" textLength="43.8" lengthAdjust="spacingAndGlyphs">46,332</text>
<text x="761" y="474.1" font-size="14.8" fill="#4a4a4a" font-weight="normal" text-anchor="start" textLength="43.8" lengthAdjust="spacingAndGlyphs">42,471</text>
<text x="761" y="519.9" font-size="14.8" fill="#4a4a4a" font-weight="normal" text-anchor="start" textLength="43.8" lengthAdjust="spacingAndGlyphs">38,610</text>
<text x="761" y="565.7" font-size="14.8" fill="#4a4a4a" font-weight="normal" text-anchor="start" textLength="43.8" lengthAdjust="spacingAndGlyphs">34,749</text>
<text x="761" y="611.5" font-size="14.8" fill="#4a4a4a" font-weight="normal" text-anchor="start" textLength="43.8" lengthAdjust="spacingAndGlyphs">30,888</text>
<text x="62.7" y="680.6" font-size="14.6" fill="#9a9a9a" font-weight="normal" text-anchor="start" textLength="22" lengthAdjust="spacingAndGlyphs">2월</text>
<text x="175.2" y="680.6" font-size="14.6" fill="#9a9a9a" font-weight="normal" text-anchor="start" textLength="22.3" lengthAdjust="spacingAndGlyphs">4월</text>
<text x="238.3" y="680.6" font-size="14.6" fill="#9a9a9a" font-weight="normal" text-anchor="start" textLength="22" lengthAdjust="spacingAndGlyphs">5월</text>
<text x="352.8" y="680.6" font-size="14.6" fill="#9a9a9a" font-weight="normal" text-anchor="start" textLength="22.6" lengthAdjust="spacingAndGlyphs">7월</text>
<text x="418.7" y="680.6" font-size="14.6" fill="#9a9a9a" font-weight="normal" text-anchor="start" textLength="22.3" lengthAdjust="spacingAndGlyphs">8월</text>
<text x="529.6" y="680.6" font-size="14.6" fill="#9a9a9a" font-weight="normal" text-anchor="start" textLength="29.8" lengthAdjust="spacingAndGlyphs">10월</text>
<text x="707.8" y="680.6" font-size="14.6" fill="#9a9a9a" font-weight="normal" text-anchor="start" textLength="32.6" lengthAdjust="spacingAndGlyphs">2016</text>
<text x="20.8" y="30.0" font-size="15" fill="#111" font-weight="bold" text-anchor="start" textLength="26.9" lengthAdjust="spacingAndGlyphs">씨젠</text>
<text x="61.3" y="30.0" font-size="15.5" fill="#8a8a8a" font-weight="normal" text-anchor="start">시</text>
<text x="78.8" y="30.3" font-size="14" fill="#222" font-weight="bold" text-anchor="start" textLength="51.9" lengthAdjust="spacingAndGlyphs">177,500</text>
<text x="140.5" y="30.0" font-size="15.5" fill="#8a8a8a" font-weight="normal" text-anchor="start">고</text>
<text x="157" y="30.3" font-size="14" fill="#222" font-weight="bold" text-anchor="start" textLength="52.5" lengthAdjust="spacingAndGlyphs">178,800</text>
<text x="217.5" y="30.0" font-size="15.5" fill="#8a8a8a" font-weight="normal" text-anchor="start">저</text>
<text x="233.5" y="30.3" font-size="14" fill="#222" font-weight="bold" text-anchor="start" textLength="54" lengthAdjust="spacingAndGlyphs">166,700</text>
<text x="294.8" y="30.0" font-size="15.5" fill="#8a8a8a" font-weight="normal" text-anchor="start">종</text>
<text x="312.2" y="30.3" font-size="14" fill="#222" font-weight="bold" text-anchor="start" textLength="53" lengthAdjust="spacingAndGlyphs">169,500</text>
<path d="M369.4 22.3h11.6l-5.8 8.8z" fill="#2f6fe0"/>
<g stroke="#3574e2" stroke-width="0.45">
<text x="383.4" y="30.3" font-size="14" fill="#3574e2" font-weight="normal" text-anchor="start" textLength="43" lengthAdjust="spacingAndGlyphs">12,300</text>
<text x="430.5" y="30.3" font-size="14" fill="#3574e2" font-weight="normal" text-anchor="start" textLength="46.5" lengthAdjust="spacingAndGlyphs">-6.77%</text>
</g>
<text x="485.5" y="30.0" font-size="15.5" fill="#8a8a8a" font-weight="normal" text-anchor="start">거</text>
<text x="502.2" y="30.3" font-size="14" fill="#222" font-weight="bold" text-anchor="start" textLength="52.3" lengthAdjust="spacingAndGlyphs">731,909</text>
<text x="20.6" y="64.4" font-size="14.3" fill="#333" font-weight="normal" text-anchor="start" textLength="56.6" lengthAdjust="spacingAndGlyphs">이동평균</text>
<text x="85.4" y="65.4" font-size="14" fill="#6fae5c" font-weight="normal" text-anchor="start" textLength="6.4" lengthAdjust="spacingAndGlyphs">5</text>
<text x="98.5" y="65.4" font-size="14" fill="#6a8fe0" font-weight="normal" text-anchor="start" textLength="14.4" lengthAdjust="spacingAndGlyphs">20</text>
<text x="119" y="65.4" font-size="14" fill="#5a50b8" font-weight="normal" text-anchor="start" textLength="14.6" lengthAdjust="spacingAndGlyphs">60</text>
<text x="140.6" y="65.4" font-size="14" fill="#dd7f8e" font-weight="normal" text-anchor="start" textLength="22.5" lengthAdjust="spacingAndGlyphs">120</text>
<text x="776.4" y="82.8" font-size="15" fill="#333" font-weight="normal" text-anchor="start" textLength="37.6" lengthAdjust="spacingAndGlyphs">Linear</text>
<path d="M823.7 76.2l5.6 5.8 5.6-5.8" fill="none" stroke="#333" stroke-width="1.3"/>
<path d="M746.3 110L757.6 98.8h90.4a3 3 0 0 1 3 3v16.2a3 3 0 0 1-3 3H757.6z" fill="#4a5c94"/>
<g stroke="#fff" stroke-width="0.3">
<text x="762" y="115.2" font-size="15" fill="#fff" font-weight="normal" text-anchor="start" textLength="51.6" lengthAdjust="spacingAndGlyphs">169,500</text>
</g>
<path d="M404.5 111.4h5.8l-2.9 6.5z" fill="#6b7bb0"/>
<text x="414.5" y="119.5" font-size="13" fill="#6b7bb0" font-weight="normal" text-anchor="start" textLength="25" lengthAdjust="spacingAndGlyphs">최고</text>
<text x="441.5" y="119.5" font-size="12.5" fill="#6b7bb0" font-weight="bold" text-anchor="start" textLength="98.5" lengthAdjust="spacingAndGlyphs">71,700 (136.40%)</text>
<path d="M2.9 635.6h6l-3-6.2z" fill="#6b7bb0"/>
<text x="13.3" y="636.5" font-size="13" fill="#6b7bb0" font-weight="normal" text-anchor="start" textLength="24.2" lengthAdjust="spacingAndGlyphs">최저</text>
<text x="40.6" y="636.5" font-size="12.5" fill="#6b7bb0" font-weight="bold" text-anchor="start" textLength="98.8" lengthAdjust="spacingAndGlyphs">29,750 (469.75%)</text>
</g>
<rect x="712.5" y="578.5" width="31" height="31" rx="2" fill="#f7f8fa" stroke="#eceef1"/>
<path d="M720.5 586l7.5 7.5-7.5 7.5M727 586l7.5 7.5-7.5 7.5" fill="none" stroke="#555" stroke-width="1.3"/>
</svg>
</body></html>
